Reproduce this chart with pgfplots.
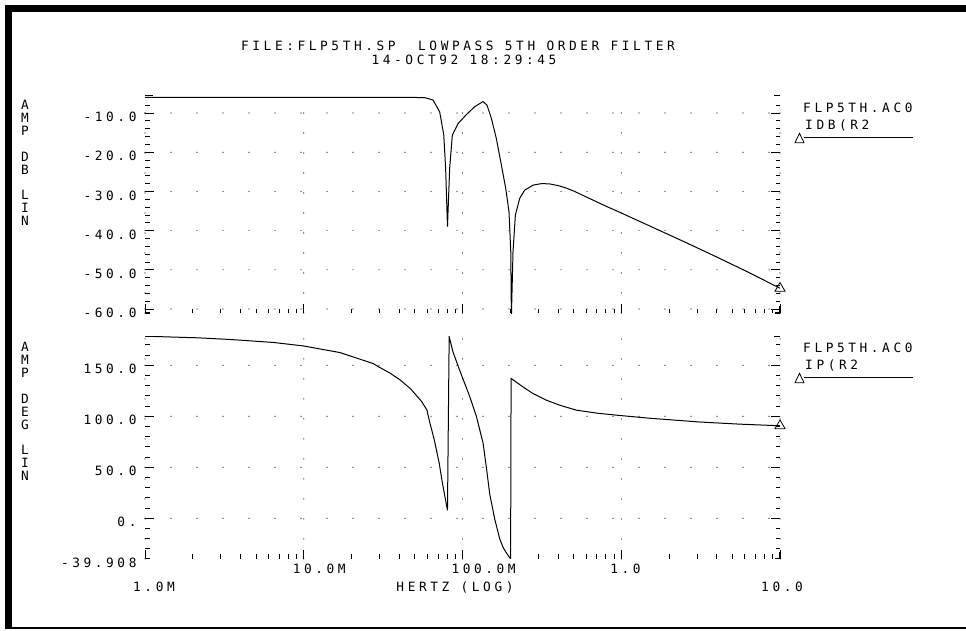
\documentclass[border=0pt]{standalone}
\usepackage{fontspec}
\setmainfont{DejaVu Sans Mono}[LetterSpace=28]
\usepackage{pgfplots}
\pgfplotsset{compat=1.18}
\newcommand{\pf}{\fontsize{12.8pt}{12.9pt}\selectfont}
\begin{document}
\begin{tikzpicture}[font=\pf]
\useasboundingbox (0pt,0pt) rectangle (966pt,630pt);
\fill[black] (5pt,1pt) rectangle (12pt,625pt);
\fill[black] (5pt,618pt) rectangle (966pt,625pt);
\fill[black] (5pt,1pt) rectangle (966pt,3pt);

% ---------- top axis: magnitude ----------
\begin{axis}[at={(145pt,317pt)}, anchor=south west,
  scale only axis, width=635pt, height=217.3pt,
  xmode=log, xmin=1e6, xmax=1e10,
  xtick={1e6,1e7,1e8,1e9,1e10}, xticklabels={},
  xtick pos=bottom, ytick pos=both,
  axis line style={draw=none},
  major tick length=9pt, minor tick length=4.5pt,
  tick style={black, line width=0.8pt},
  grid=major,
  major y grid style={black, line width=1.2pt, line cap=round, dash pattern=on 0pt off 26pt},
  major x grid style={black, line width=1.2pt, line cap=round, dash pattern=on 0pt off 20pt},
  yticklabel style={anchor=east, yshift=-4pt, xshift=-5pt, font=\pf},
  ymin=-61.0, ymax=-5.6,
  ytick={-60,-50,-40,-30,-20,-10},
  yticklabels={-60.0,-50.0,-40.0,-30.0,-20.0,-10.0},
  minor ytick={-58,-56,-54,-52,-48,-46,-44,-42,-38,-36,-34,-32,-28,-26,-24,-22,-18,-16,-14,-12,-8}]
\addplot[black, line width=1pt] coordinates {
(1e6,-6.02) (3.16e6,-6.02) (1e7,-6.02) (3.16e7,-6.03) (5.01e7,-6.05)
(5.78e7,-6.1) (6.52e7,-6.7) (7.18e7,-9.7) (7.62e7,-15.6) (7.83e7,-24.1)
(8.04e7,-39.0) (8.30e7,-24.1) (8.63e7,-15.6) (9.38e7,-12.7) (1.059e8,-10.4)
(1.194e8,-8.4) (1.346e8,-7.1) (1.426e8,-8.0) (1.521e8,-11.4) (1.633e8,-16.5)
(1.758e8,-23.3) (1.871e8,-29.2) (1.963e8,-35.2) (2.014e8,-45.4) (2.032e8,-62)
(2.080e8,-45.4) (2.153e8,-36.0) (2.291e8,-31.8) (2.460e8,-29.7) (2.780e8,-28.4)
(3.162e8,-28.0) (3.548e8,-28.1) (3.981e8,-28.5) (4.467e8,-29.1) (5.012e8,-29.9)
(6.310e8,-31.8) (7.943e8,-33.7) (1e9,-35.5) (1.585e9,-39.2) (2.512e9,-42.9)
(3.981e9,-46.7) (6.310e9,-50.6) (1e10,-54.7)
};
\addplot[only marks, mark=triangle, mark size=5.8pt, mark options={black, line width=0.8pt}] coordinates {(1e10,-54.7)};
\draw[line width=1.5pt] (rel axis cs:0,1) -- ++(8pt,0pt);
\draw[line width=1.5pt] (rel axis cs:1,1) -- ++(-6pt,0pt);
\draw[line width=1.2pt] ([yshift=7pt]rel axis cs:0,0) -- (rel axis cs:0,0) -- ++(5pt,0pt);
\draw[line width=1.2pt] ([yshift=7pt]rel axis cs:1,0) -- (rel axis cs:1,0) -- ++(-5pt,0pt);
\end{axis}

% ---------- bottom axis: phase ----------
\begin{axis}[at={(145pt,71.1pt)}, anchor=south west,
  scale only axis, width=635pt, height=222.9pt,
  xmode=log, xmin=1e6, xmax=1e10,
  xtick={1e6,1e7,1e8,1e9,1e10}, xticklabels={,10.0M,100.0M,1.0,},
  xtick pos=bottom, ytick pos=both,
  axis line style={draw=none},
  major tick length=9pt, minor tick length=4.5pt,
  tick style={black, line width=0.8pt},
  grid=major,
  major y grid style={black, line width=1.2pt, line cap=round, dash pattern=on 0pt off 26pt},
  major x grid style={black, line width=1.2pt, line cap=round, dash pattern=on 0pt off 20pt},
  yticklabel style={anchor=east, yshift=-4pt, xshift=-5pt, font=\pf},
  xticklabel style={anchor=north west, xshift=-14.5pt, yshift=-2pt, font=\pf},
  ymin=-39.908, ymax=178.6,
  ytick={0,50,100,150},
  yticklabels={0.,50.0,100.0,150.0},
  minor ytick={-30,-20,-10,10,20,30,40,60,70,80,90,110,120,130,140,160,170},
  extra y ticks={-39.908}, extra y tick labels={-39.908},
  extra y tick style={grid=none, major tick length=0pt}]
\addplot[black, line width=1pt] coordinates {
(1e6,178.4) (2.163e6,176.8) (3.428e6,175.2) (6.412e6,172.3) (9.91e6,168.9)
(1.687e7,162.4) (2.735e7,151.6) (3.013e7,147.7) (3.47e7,142.5) (4.05e7,135.5)
(4.73e7,126.5) (5.52e7,114.5) (5.97e7,106.0) (6.18e7,95.5) (6.637e7,77.0)
(7.129e7,54.0) (7.482e7,34.0) (8.04e7,7.8) (8.24e7,178.0) (8.71e7,163.0)
(9.59e7,145.1) (1.109e8,119.5) (1.222e8,100.0) (1.346e8,74.0) (1.413e8,50.0)
(1.483e8,24.0) (1.596e8,-1.0) (1.714e8,-20.0) (1.800e8,-28.5) (1.888e8,-34.0) (2.009e8,-39.9)
(2.023e8,137.0) (2.404e8,128.7) (2.780e8,122.2) (3.373e8,115.7) (4.093e8,110.8)
(5.212e8,105.9) (7.079e8,102.9) (9.91e8,100.6) (1.507e9,98.0) (3.112e9,94.3) (5.559e9,92.2)
(1e10,90.6)
};
\addplot[only marks, mark=triangle, mark size=5.8pt, mark options={black, line width=0.8pt}] coordinates {(1e10,90.6)};
\draw[line width=1.5pt] (rel axis cs:0,1) -- ++(8pt,0pt);
\draw[line width=1.5pt] (rel axis cs:1,1) -- ++(-6pt,0pt);
\draw[line width=1.2pt] ([yshift=7pt]rel axis cs:0,0) -- (rel axis cs:0,0) -- ++(5pt,0pt);
\draw[line width=1.2pt] ([yshift=7pt]rel axis cs:1,0) -- (rel axis cs:1,0) -- ++(-5pt,0pt);
\end{axis}

% ---------- titles and labels ----------
\node[inner sep=0pt] at (458pt,584pt) {FILE:FLP5TH.SP~~LOWPASS 5TH ORDER FILTER};
\node[inner sep=0pt] at (464pt,570pt) {14-OCT92 18:29:45};

\foreach \ch/\k in {A/0,M/1,P/2,D/4,B/5,L/7,I/8,N/9}
  \node[inner sep=0pt] at (25pt,{525pt-\k*12.9pt}) {\ch};
\foreach \ch/\k in {A/0,M/1,P/2,D/4,E/5,G/6,L/8,I/9,N/10}
  \node[inner sep=0pt] at (25pt,{283pt-\k*12.9pt}) {\ch};

\node[inner sep=0pt, anchor=west] at (133pt,43pt) {1.0M};
\node[inner sep=0pt] at (455pt,43pt) {HERTZ (LOG)};
\node[inner sep=0pt, anchor=west] at (761pt,43pt) {10.0};

% legend, top
\node[inner sep=0pt, anchor=west] at (803pt,522pt) {FLP5TH.AC0};
\node[inner sep=0pt, anchor=west] at (805pt,504.3pt) {IDB(R2};
\draw[line width=0.9pt] (804pt,492.3pt) -- (913.3pt,492.3pt);
\draw[line width=0.8pt] (795pt,487.3pt) -- (804pt,487.3pt) -- (799.5pt,496.7pt) -- cycle;
% legend, bottom
\node[inner sep=0pt, anchor=west] at (803pt,281.7pt) {FLP5TH.AC0};
\node[inner sep=0pt, anchor=west] at (805pt,264.3pt) {IP(R2};
\draw[line width=0.9pt] (804pt,252.3pt) -- (913.3pt,252.3pt);
\draw[line width=0.8pt] (795pt,247.3pt) -- (804pt,247.3pt) -- (799.5pt,256.7pt) -- cycle;
\end{tikzpicture}
\end{document}
